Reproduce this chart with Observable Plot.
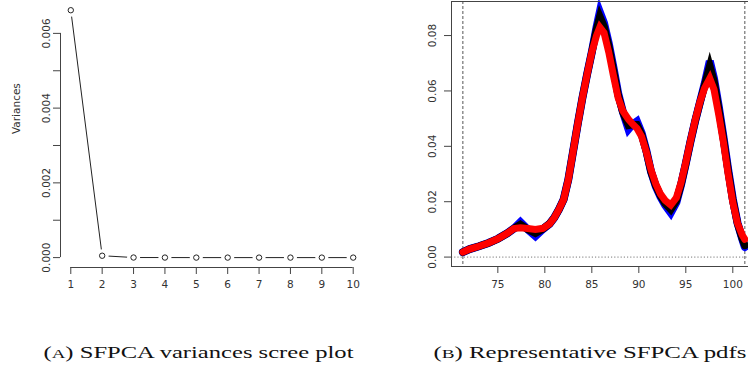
<!DOCTYPE html>
<html>
<head>
<meta charset="utf-8">
<script src="https://cdn.jsdelivr.net/npm/d3@7"></script>
<script src="https://cdn.jsdelivr.net/npm/@observablehq/plot@0.6"></script>
<style>
  html, body { margin: 0; padding: 0; background: #fff; }
  #wrap { position: relative; width: 748px; height: 378px; overflow: hidden; }
  #wrap > .pa { position: absolute; left: 0; top: 0; }
  #wrap > .pb { position: absolute; left: 374px; top: 0; }
  #wrap > .cap { position: absolute; left: 0; top: 300px; }
</style>
</head>
<body>
<div id="wrap"></div>
<script>
// ---------- Panel A: scree plot ----------
const components = [1, 2, 3, 4, 5, 6, 7, 8, 9, 10];
const variances = [0.00662, 0.00005, 0.000002, 0.000001, 0, 0, 0, 0, 0, 0];
const screeYTicks = [0, 0.001, 0.002, 0.003, 0.004, 0.005, 0.006];
const screeYLabels = [0, 0.002, 0.004, 0.006];

// ---------- Panel B: representative pdfs ----------
const pdfX = [71.28, 72, 73, 74, 75, 76, 76.7, 77.4, 78.2, 79.0, 79.8, 80.5, 81, 81.5, 82, 82.5, 83, 83.5, 84, 84.5, 85, 85.5,
  85.85, 86.3, 86.8, 87.3, 87.8, 88.3, 88.9, 89.3, 89.8, 90.3, 90.8, 91.3, 91.8, 92.3, 92.8, 93.4,
  94, 94.5, 95, 95.5, 96, 96.5, 97, 97.55, 98, 98.5, 99, 99.5, 100, 100.5, 101, 101.28];
const pdfBlue = [0.0018, 0.0029, 0.0039, 0.0051, 0.0066, 0.0086, 0.0103, 0.0126, 0.0099, 0.0076, 0.0101, 0.0120, 0.0142, 0.0172, 0.0208, 0.0280, 0.0380, 0.0480, 0.0575, 0.0660, 0.0740, 0.0830,
  0.0885, 0.0845, 0.0772, 0.0685, 0.0592, 0.0525, 0.0462, 0.0478, 0.0490, 0.0448, 0.0385, 0.0308, 0.0256, 0.0218, 0.0188, 0.0160,
  0.0198, 0.0262, 0.0338, 0.0418, 0.0492, 0.0558, 0.0625, 0.0708, 0.0645, 0.0545, 0.0435, 0.0318, 0.0210, 0.0124, 0.0066, 0.0036];
const pdfBlack = [0.0018, 0.0029, 0.0039, 0.0051, 0.0066, 0.0086, 0.0103, 0.0118, 0.0100, 0.0086, 0.0102, 0.0120, 0.0142, 0.0172, 0.0208, 0.0280, 0.0380, 0.0480, 0.0575, 0.0660, 0.0740, 0.0822,
  0.0868, 0.0832, 0.0762, 0.0676, 0.0585, 0.0524, 0.0476, 0.0478, 0.0478, 0.0442, 0.0382, 0.0308, 0.0258, 0.0222, 0.0194, 0.0172,
  0.0204, 0.0264, 0.0338, 0.0418, 0.0492, 0.0558, 0.0620, 0.0690, 0.0635, 0.0535, 0.0428, 0.0312, 0.0206, 0.0122, 0.0068, 0.0042];
const pdfRed = [0.0018, 0.0029, 0.0039, 0.0051, 0.0066, 0.0086, 0.0103, 0.0106, 0.0103, 0.0100, 0.0104, 0.0120, 0.0142, 0.0172, 0.0208, 0.0280, 0.0380, 0.0480, 0.0575, 0.0660, 0.0740, 0.0800,
  0.0830, 0.0810, 0.0740, 0.0655, 0.0575, 0.0528, 0.0497, 0.0482, 0.0465, 0.0435, 0.0380, 0.0315, 0.0265, 0.0228, 0.0205, 0.0188,
  0.0215, 0.0270, 0.0342, 0.0420, 0.0495, 0.0560, 0.0610, 0.0645, 0.0605, 0.0515, 0.0415, 0.0300, 0.0198, 0.0122, 0.0080, 0.0064];
const pdfXTicks = [75, 80, 85, 90, 95, 100];
const pdfYTicks = [0, 0.02, 0.04, 0.06, 0.08];
const supportBounds = [71.28, 101.28];

const captionA = ["(", "A", ") SFPCA variances scree plot"];
const captionB = ["(", "B", ") Representative SFPCA pdfs"];

const FONT = "DejaVu Sans";
const TXT = "#333";
const LN = "#444";

const scree = components.map((c, i) => ({c, v: variances[i]}));
const xA0 = 0.672, xA1 = 10.36, yA0 = -0.000265, yA1 = 0.00688;

const plotA = Plot.plot({
  width: 374, height: 300,
  marginLeft: 60, marginRight: 10, marginTop: 0, marginBottom: 33,
  style: {fontFamily: FONT, fontSize: "10.5px", color: TXT, background: "white"},
  x: {domain: [xA0, xA1], axis: null},
  y: {domain: [yA0, yA1], axis: null},
  marks: [
    Plot.axisX({ticks: components, tickSize: 7, tickPadding: 6, tickFormat: d => String(d), stroke: LN, fill: TXT, label: null}),
    Plot.ruleY([yA0], {x1: 1, x2: 10, stroke: LN}),
    Plot.axisY({ticks: screeYTicks, tickSize: 7, tickFormat: () => "", stroke: LN, label: null}),
    Plot.ruleX([xA0], {y1: 0, y2: 0.006, stroke: LN}),
    Plot.text(screeYLabels, {x: () => xA0, y: d => d, text: d => d.toFixed(3), rotate: -90, dx: -14, fill: TXT}),
    Plot.text(["Variances"], {frameAnchor: "left", dx: -44, rotate: -90, fill: TXT}),
    Plot.line(scree, {x: "c", y: "v", stroke: "#222", strokeWidth: 1}),
    Plot.dot(scree, {x: "c", y: "v", r: 6.5, fill: "white", stroke: null}),
    Plot.dot(scree, {x: "c", y: "v", r: 2.7, fill: "white", stroke: "#222", strokeWidth: 1})
  ]
});
plotA.classList.add("pa");

const xB0 = 70.07, xB1 = 101.67, yB0 = -0.0034, yB1 = 0.0923;
const blue = pdfX.map((x, i) => ({x, y: pdfBlue[i]}));
const black = pdfX.map((x, i) => ({x, y: pdfBlack[i]}));
const red = pdfX.map((x, i) => ({x, y: pdfRed[i]}));

const plotB = Plot.plot({
  width: 374, height: 300,
  marginLeft: 77, marginRight: 0, marginTop: 1, marginBottom: 34,
  style: {fontFamily: FONT, fontSize: "10.5px", color: TXT, background: "white"},
  x: {domain: [xB0, xB1], axis: null},
  y: {domain: [yB0, yB1], axis: null},
  marks: [
    Plot.ruleY([0], {stroke: "#777", strokeDasharray: "1.2,2"}),
    Plot.ruleX(supportBounds, {stroke: "#555", strokeDasharray: "3,2"}),
    Plot.line(blue, {x: "x", y: "y", stroke: "#0000ff", strokeWidth: 8, strokeLinejoin: "miter", strokeMiterlimit: 4}),
    Plot.line(black, {x: "x", y: "y", stroke: "#000000", strokeWidth: 7.5, strokeLinejoin: "miter", strokeMiterlimit: 4}),
    Plot.line(red, {x: "x", y: "y", stroke: "#ff0000", strokeWidth: 7, strokeLinejoin: "miter", strokeMiterlimit: 3}),
    Plot.ruleY([yB1], {stroke: LN}),
    Plot.ruleY([yB0], {stroke: LN}),
    Plot.ruleX([xB0], {stroke: LN}),
    Plot.axisX({ticks: pdfXTicks, tickSize: 7, tickPadding: 7, tickFormat: d => String(d), stroke: LN, fill: TXT, label: null}),
    Plot.axisY({ticks: pdfYTicks, tickSize: 7, tickFormat: () => "", stroke: LN, label: null}),
    Plot.text(pdfYTicks, {x: () => xB0, y: d => d, text: d => d.toFixed(2), rotate: -90, dx: -19, fill: TXT})
  ]
});
plotB.classList.add("pb");

const wrap = document.getElementById("wrap");
wrap.appendChild(plotA);
wrap.appendChild(plotB);

// captions
const cap = d3.create("svg").attr("class", "cap").attr("width", 748).attr("height", 78);
function addCaption(parts, x, len) {
  const t = cap.append("text")
    .attr("x", x).attr("y", 58)
    .attr("font-family", "Liberation Serif")
    .attr("font-size", 17.5)
    .attr("fill", "#111")
    .attr("textLength", len)
    .attr("lengthAdjust", "spacingAndGlyphs");
  t.append("tspan").text(parts[0]);
  t.append("tspan").attr("font-size", 13.5).text(parts[1]);
  t.append("tspan").text(parts[2]);
}
addCaption(captionA, 43.5, 310);
addCaption(captionB, 433.5, 313);
wrap.appendChild(cap.node());
</script>
</body>
</html>
